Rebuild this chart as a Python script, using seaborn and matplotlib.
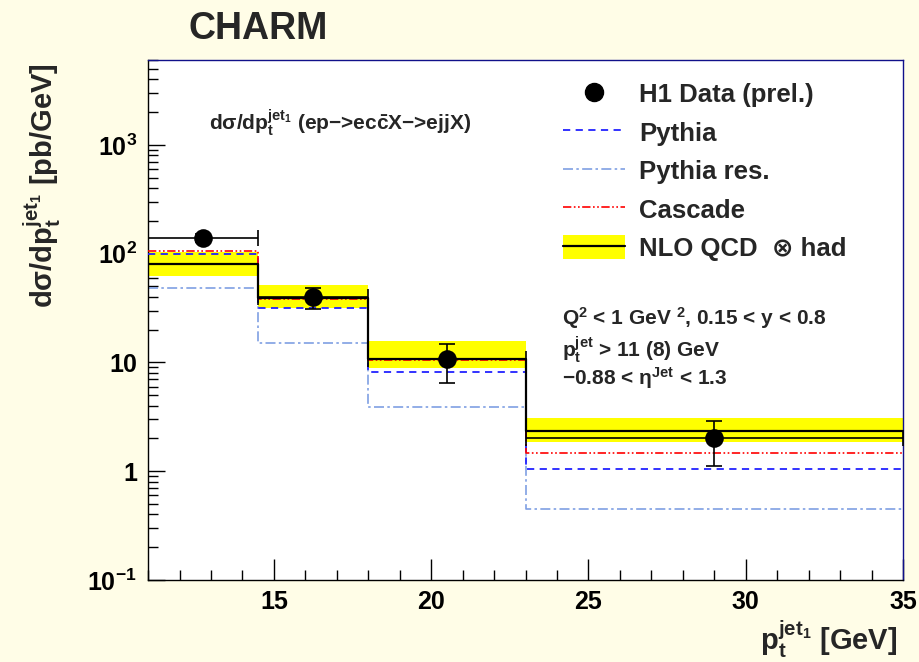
import matplotlib
matplotlib.use('Agg')
import numpy as np
import pandas as pd
import matplotlib.pyplot as plt
import seaborn as sns
from matplotlib.lines import Line2D
from matplotlib.patches import Patch
from matplotlib.ticker import FixedLocator, FixedFormatter, LogLocator, NullFormatter, MultipleLocator

# ---- data ----
bin_edges = [11.0, 14.5, 18.0, 23.0, 35.0]
data_y = [140.0, 40.0, 10.8, 2.0]
data_err_down = [12.0, 9.0, 4.4, 0.89]
data_err_up = [12.0, 8.0, 4.1, 0.87]
pythia = [99.0, 31.3, 8.1, 1.05]
pythia_res = [48.0, 15.2, 3.87, 0.45]
cascade = [106.0, 38.0, 10.5, 1.47]
nlo = [81.0, 39.5, 10.8, 2.32]
nlo_low = [62.7, 31.6, 8.9, 1.85]
nlo_high = [102.8, 51.5, 15.6, 3.1]
x_ticks = [15, 20, 25, 30, 35]
x_tick_labels = ['15', '20', '25', '30', '35']
y_ticks = [0.1, 1, 10, 100, 1000]
y_tick_labels = [r'$10^{-1}$', '1', '10', r'$10^{2}$', r'$10^{3}$']
legend_labels = ['H1 Data (prel.)', 'Pythia', 'Pythia res.', 'Cascade', 'NLO QCD  \u2297 had']

sns.set_theme(style='ticks')
plt.rcParams.update({
    'font.family': ['Liberation Sans', 'DejaVu Sans'],
    'font.weight': 'bold',
    'mathtext.fontset': 'custom',
    'mathtext.rm': 'Liberation Sans:bold',
    'mathtext.it': 'Liberation Sans:bold',
    'mathtext.bf': 'Liberation Sans:bold',
    'mathtext.sf': 'Liberation Sans:bold',
    'mathtext.default': 'rm',
    'axes.linewidth': 1.0,
})

BG = '#fffde7'
C_PYTHIA = '#2222ff'
C_RES = '#7f9fe3'
C_CASCADE = '#ff0000'
C_BAND = '#ffff00'

fig = plt.figure(figsize=(9.2, 6.62), dpi=100, facecolor=BG)
ax = fig.add_axes([0.161, 0.124, 0.8205, 0.785])
ax.set_facecolor('white')

edges = np.array(bin_edges)
centers = (edges[:-1] + edges[1:]) / 2
halfw = (edges[1:] - edges[:-1]) / 2


def ext(v):
    return list(v) + [v[-1]]


df = pd.DataFrame({
    'pt': edges,
    'pythia': ext(pythia),
    'pythia_res': ext(pythia_res),
    'cascade': ext(cascade),
    'nlo': ext(nlo),
    'nlo_low': ext(nlo_low),
    'nlo_high': ext(nlo_high),
})

ax.fill_between(df['pt'], df['nlo_low'], df['nlo_high'], step='post',
                color=C_BAND, lw=0, zorder=1)
sns.lineplot(data=df, x='pt', y='pythia_res', ax=ax, drawstyle='steps-post',
             color=C_RES, linestyle=(0, (6, 2, 1.5, 2)), lw=1.2,
             estimator=None, zorder=2)
sns.lineplot(data=df, x='pt', y='pythia', ax=ax, drawstyle='steps-post',
             color=C_PYTHIA, linestyle=(0, (4, 3)), lw=1.3,
             estimator=None, zorder=3)
sns.lineplot(data=df, x='pt', y='cascade', ax=ax, drawstyle='steps-post',
             color=C_CASCADE, linestyle=(0, (5, 1.5, 1, 1.5, 1, 1.5)), lw=1.2,
             estimator=None, zorder=3)
sns.lineplot(data=df, x='pt', y='nlo', ax=ax, drawstyle='steps-post',
             color='black', lw=1.6, estimator=None, zorder=4)

ax.errorbar(centers, data_y, yerr=[data_err_down, data_err_up], xerr=halfw,
            fmt='none', ecolor='black', elinewidth=1.2, capsize=5.5,
            capthick=1.2, zorder=5)
sns.scatterplot(x=centers, y=data_y, ax=ax, color='black', s=180,
                edgecolor='black', linewidth=0, zorder=6, legend=False)

ax.set_yscale('log')
ax.set_xlim(11, 35)
ax.set_ylim(0.1, 6000)
ax.set_xlabel('')
ax.set_ylabel('')

ax.xaxis.set_major_locator(FixedLocator(x_ticks))
ax.xaxis.set_major_formatter(FixedFormatter(x_tick_labels))
ax.xaxis.set_minor_locator(MultipleLocator(1))
ax.yaxis.set_major_locator(FixedLocator(y_ticks))
ax.yaxis.set_major_formatter(FixedFormatter(y_tick_labels))
ax.yaxis.set_minor_locator(LogLocator(base=10, subs=np.arange(2, 10)))
ax.yaxis.set_minor_formatter(NullFormatter())

ax.tick_params(axis='both', which='both', direction='in', top=False, right=False,
               labelsize=18, colors='black', width=1.0)
ax.tick_params(axis='x', which='major', length=15, pad=7)
ax.tick_params(axis='x', which='minor', length=7.5)
ax.tick_params(axis='y', which='major', length=12, pad=8)
ax.tick_params(axis='y', which='minor', length=7)
for s in ['left', 'bottom']:
    ax.spines[s].set_color('black')
for s in ['top', 'right']:
    ax.spines[s].set_color('#10108a')

handles = [
    Line2D([0], [0], marker='o', ls='none', color='black', markersize=13),
    Line2D([0], [0], color=C_PYTHIA, linestyle=(0, (4, 3)), lw=1.3),
    Line2D([0], [0], color=C_RES, linestyle=(0, (6, 2, 1.5, 2)), lw=1.2),
    Line2D([0], [0], color=C_CASCADE, linestyle=(0, (5, 1.5, 1, 1.5, 1, 1.5)), lw=1.2),
    (Patch(facecolor=C_BAND, edgecolor='none'), Line2D([0], [0], color='black', lw=1.6)),
]
ax.legend(handles, legend_labels, loc='upper left', bbox_to_anchor=(0.612, 0.8775),
          bbox_transform=fig.transFigure, frameon=False, fontsize=18.5,
          handlelength=2.42, handleheight=1.08, handletextpad=0.55,
          labelspacing=0.49, borderpad=0, borderaxespad=0, numpoints=1)

fig.text(0.281, 1 - 29 / 662, 'CHARM', fontsize=27, ha='center', va='center')
fig.text(0.227, 1 - 130 / 662,
         r'$d\sigma/dp_{t}^{jet_{1}}$ (ep' + '\u2212>ec' + r'$\bar{c}$' + 'X\u2212>ejjX)',
         fontsize=15, va='baseline')
fig.text(0.6105, 0.509, r'$Q^{2}$ < 1 GeV $^{2}$, 0.15 < y < 0.8', fontsize=15, va='baseline')
fig.text(0.6105, 0.461, r'$p_{t}^{jet}$ > 11 (8) GeV', fontsize=15, va='baseline')
fig.text(0.6105, 0.419, '\u22120.88 < ' + r'$\eta^{Jet}$' + ' < 1.3', fontsize=15, va='baseline')

fig.text(0.046, 1 - 63 / 662, r'$d\sigma/dp_{t}^{jet_{1}}$ [pb/GeV]', rotation=90,
         fontsize=21, ha='center', va='top')
fig.text(0.975, 0.018, r'$p_{t}^{jet_{1}}$ [GeV]', fontsize=21, ha='right', va='baseline')

fig.savefig('out.png', dpi=100, facecolor=BG)
